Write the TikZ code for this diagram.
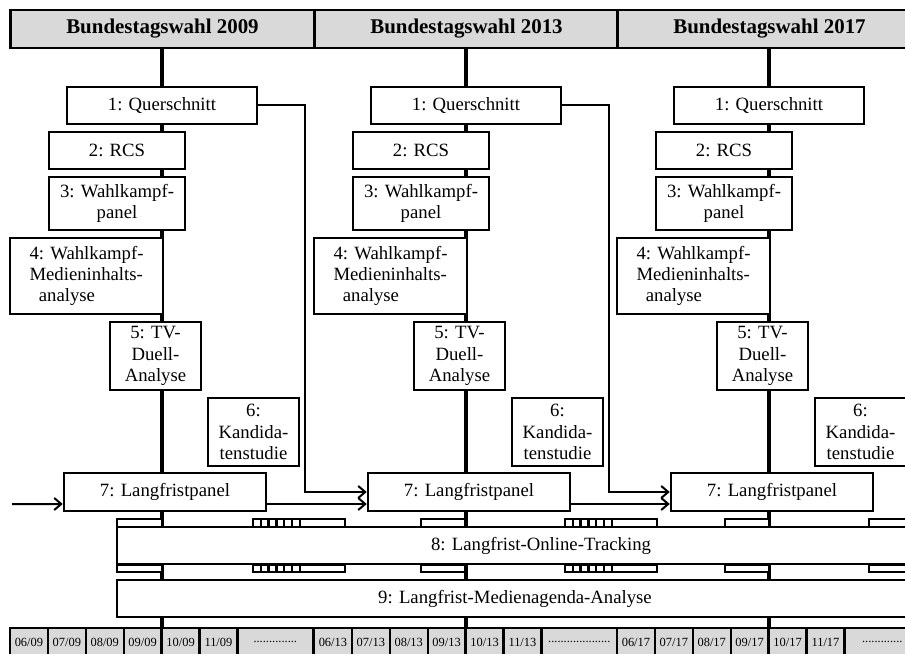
\documentclass[tikz,border=0pt]{standalone}
\usepackage{fontspec}
\setmainfont{Liberation Serif}
\usetikzlibrary{arrows.meta, backgrounds}
\definecolor{hdrgray}{RGB}{217,217,217}

\begin{document}
\begin{tikzpicture}[x=1bp, y=-1bp,
    box/.style={draw, line width=2.5bp, fill=white, inner sep=0pt, align=center,
      font=\fontsize{18.8}{21.5}\selectfont},
    sz/.style 2 args={minimum width=#1bp, minimum height=#2bp},
    hdr/.style={draw, line width=2.6bp, fill=hdrgray, inner sep=0pt,
      minimum width=304bp, minimum height=38bp, font=\fontsize{21}{24}\selectfont\bfseries},
    cell/.style={draw, line width=2.4bp, fill=hdrgray, inner sep=0pt,
      minimum height=28bp, font=\fontsize{12.5}{14}\selectfont},
    bar/.style={draw, line width=2.5bp, fill=white},
    spine/.style={line width=3.4bp},
    arr/.style={line width=2bp, -{Straight Barb[length=7bp, width=12bp, line width=2bp]}},
  ]
  \useasboundingbox (0,0) rectangle (905,654);
  \clip (0,0) rectangle (905,654);

  \foreach \c/\yr/\yy/\dots [count=\i] in {0/2009/09/{..............},
      304/2013/13/{....................}, 607/2017/17/{.............}} {
    \node[hdr] (h\i) at (162.5+\c,29) {Bundestagswahl \yr};
    \node[box, sz={190}{37}] (q\i) at (162+\c,105.5) {1: Querschnitt};
    \node[box, sz={136}{37}] (rcs\i) at (117+\c,150.5) {2: RCS};
    \node[box, sz={136}{53}] (wkp\i) at (117+\c,203.5) {3: Wahlkampf-\\panel};
    \node[box, sz={153}{76}, align=left] (wma\i) at (86.5+\c,276)
      {4: Wahlkampf-\\Medieninhalts-\\\hspace*{0.5em}analyse};
    \node[box, sz={91}{68}] (tvd\i) at (155.5+\c,356) {5: TV-\\Duell-\\Analyse};
    \node[box, sz={91}{68}] (kand\i) at (253.5+\c,432) {6:\\Kandida-\\tenstudie};
    \node[box, sz={202}{38}] (lfp\i) at (165+\c,492) {7: Langfristpanel};
    \foreach \m [count=\k from 0] in {06,07,08,09,10,11}
      \node[cell, minimum width=37.9bp] (d\i-\k) at (28.95+\k*37.9+\c,642) {\m/\yy};
    \node[cell, minimum width=75.8bp] (dots\i) at (275.3+\c,642) {\dots};
  }

  \foreach \a/\b in {117/162, 253/345, 421/465, 565/657, 725/769, 869/962} {
    \draw[bar] (\a,519) rectangle (\b,527);
    \draw[bar] (\a,565) rectangle (\b,572);
  }
  \foreach \a in {253,565}
    \foreach \t in {1,...,6} {
      \draw[line width=2.5bp] (\a+\t*7.8,519) -- ++(0,8);
      \draw[line width=2.5bp] (\a+\t*7.8,565) -- ++(0,7);
    }

  \node[box, minimum width=848bp, minimum height=37bp] (trk) at (541,545.5)
    {8: Langfrist-Online-Tracking};
  \node[box, minimum width=796bp, minimum height=37bp] (med) at (515,598.5)
    {9: Langfrist-Medienagenda-Analyse};

  \begin{scope}[on background layer]
    \foreach \i in {1,2,3}
      \draw[spine] (h\i.south -| q\i) -- (q\i |- d\i-4.north west);
  \end{scope}

  \coordinate (src) at (12,504);
  \draw[arr] (src) -- ([yshift=-12bp]lfp1.west);
  \draw[arr] ([yshift=-12bp]lfp1.east) -- ([yshift=-12bp]lfp2.west);
  \draw[arr] ([yshift=-12bp]lfp2.east) -- ([yshift=-12bp]lfp3.west);
  \draw[arr] (q1.east) -- ++(47,0) |- (lfp2.west);
  \draw[arr] (q2.east) -- ++(47,0) |- (lfp3.west);
\end{tikzpicture}
\end{document}
